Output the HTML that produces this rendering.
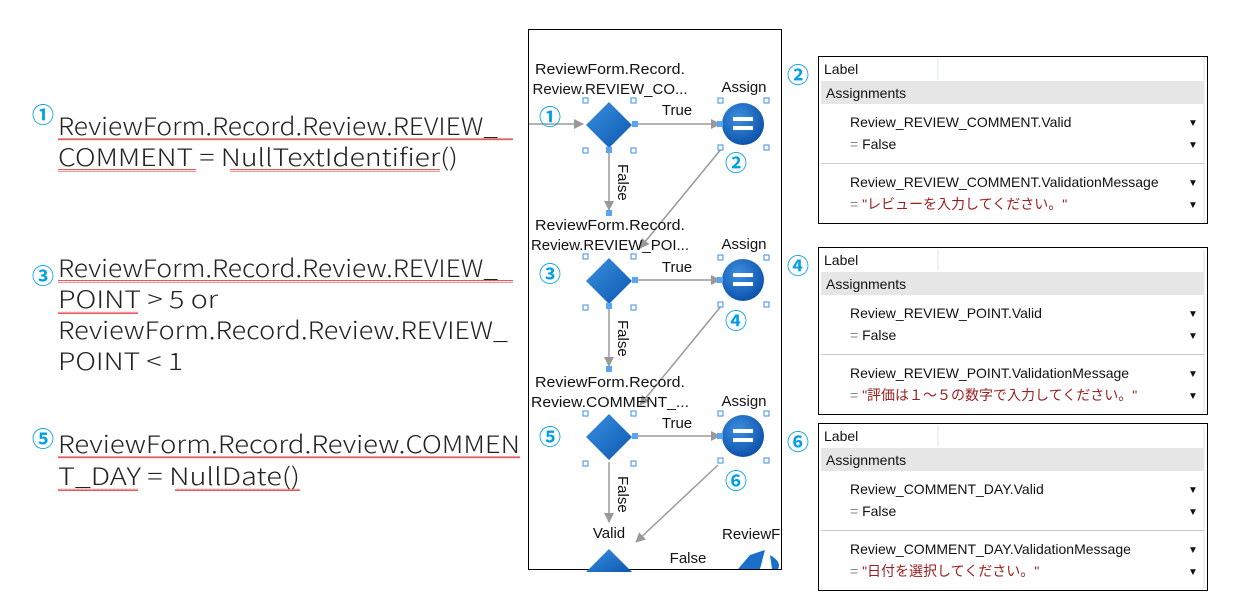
<!DOCTYPE html>
<html><head><meta charset="utf-8"><style>
html,body{margin:0;padding:0;background:#fff;}
svg{display:block;}
</style></head><body>
<svg width="1248" height="609" viewBox="0 0 1248 609" xmlns="http://www.w3.org/2000/svg" font-family="Liberation Sans, Noto Sans CJK JP, sans-serif">
<defs>
<radialGradient id="cg" cx="0.4" cy="0.35" r="0.7"><stop offset="0" stop-color="#3d8fe0"/><stop offset="1" stop-color="#0a4fa8"/></radialGradient>
<linearGradient id="dg" x1="0" y1="0" x2="1" y2="1"><stop offset="0" stop-color="#3a90e0"/><stop offset="1" stop-color="#0b58b0"/></linearGradient>
<marker id="ar" markerWidth="10" markerHeight="10" refX="9" refY="5" orient="auto" markerUnits="userSpaceOnUse"><path d="M0,0 L10,5 L0,10 z" fill="#999"/></marker>
<pattern id="wv" width="4" height="3" patternUnits="userSpaceOnUse"><path d="M0,2 L1,0.5 L2,2 L3,0.5 L4,2" stroke="#e03030" stroke-width="0.8" fill="none"/></pattern>
</defs>

<!-- left text -->
<g font-size="24" fill="#222" font-family="Noto Sans CJK JP, Liberation Sans, sans-serif" font-weight="300">
<text x="32" y="123" font-size="22" fill="#00a0e9" font-weight="700">①</text>
<text x="58" y="135" textLength="440" lengthAdjust="spacingAndGlyphs">ReviewForm.Record.Review.REVIEW_</text>
<text x="58" y="166" textLength="400" lengthAdjust="spacingAndGlyphs">COMMENT = NullTextIdentifier()</text>
<rect x="58" y="138" width="455" height="3" fill="url(#wv)"/>
<rect x="58" y="169" width="138" height="3" fill="url(#wv)"/>
<rect x="230" y="169" width="210" height="3" fill="url(#wv)"/>

<text x="32" y="284" font-size="22" fill="#00a0e9" font-weight="700">③</text>
<text x="58" y="277" textLength="440" lengthAdjust="spacingAndGlyphs">ReviewForm.Record.Review.REVIEW_</text>
<text x="58" y="308" textLength="160" lengthAdjust="spacingAndGlyphs">POINT &gt; 5 or</text>
<text x="58" y="339" textLength="450" lengthAdjust="spacingAndGlyphs">ReviewForm.Record.Review.REVIEW_</text>
<text x="58" y="370" textLength="125" lengthAdjust="spacingAndGlyphs">POINT &lt; 1</text>
<rect x="58" y="280" width="455" height="3" fill="url(#wv)"/>
<rect x="58" y="311" width="80" height="3" fill="url(#wv)"/>

<text x="32" y="447" font-size="22" fill="#00a0e9" font-weight="700">⑤</text>
<text x="58" y="453" textLength="462" lengthAdjust="spacingAndGlyphs">ReviewForm.Record.Review.COMMEN</text>
<text x="58" y="485" textLength="242" lengthAdjust="spacingAndGlyphs">T_DAY = NullDate()</text>
<rect x="58" y="456" width="462" height="3" fill="url(#wv)"/>
<rect x="58" y="488" width="80" height="3" fill="url(#wv)"/>
<rect x="175" y="488" width="125" height="3" fill="url(#wv)"/>
</g>

<!-- flow box -->
<rect x="528.5" y="29.5" width="253" height="540" fill="#fff" stroke="#000"/>
<g stroke="#9a9a9a" stroke-width="1.5" fill="none">
<line x1="529" y1="124" x2="583" y2="124" marker-end="url(#ar)"/>
<line x1="635" y1="124" x2="720" y2="124" marker-end="url(#ar)"/>
<line x1="609" y1="150" x2="609" y2="210" marker-end="url(#ar)"/>
<line x1="722" y1="148" x2="640" y2="248" marker-end="url(#ar)"/>
<line x1="635" y1="280" x2="720" y2="280" marker-end="url(#ar)"/>
<line x1="609" y1="306" x2="609" y2="366" marker-end="url(#ar)"/>
<line x1="722" y1="305" x2="640" y2="405" marker-end="url(#ar)"/>
<line x1="635" y1="436" x2="720" y2="436" marker-end="url(#ar)"/>
<line x1="609" y1="462" x2="609" y2="522" marker-end="url(#ar)"/>
<line x1="718" y1="465" x2="636" y2="542" marker-end="url(#ar)"/>
</g>
<g font-size="15" fill="#111">
<text x="610" y="74" text-anchor="middle" textLength="150" lengthAdjust="spacingAndGlyphs">ReviewForm.Record.</text>
<text x="610" y="94" text-anchor="middle" textLength="155" lengthAdjust="spacingAndGlyphs">Review.REVIEW_CO...</text>
<text x="610" y="230" text-anchor="middle" textLength="150" lengthAdjust="spacingAndGlyphs">ReviewForm.Record.</text>
<text x="610" y="250" text-anchor="middle" textLength="158" lengthAdjust="spacingAndGlyphs">Review.REVIEW_POI...</text>
<text x="610" y="387" text-anchor="middle" textLength="150" lengthAdjust="spacingAndGlyphs">ReviewForm.Record.</text>
<text x="610" y="407" text-anchor="middle" textLength="158" lengthAdjust="spacingAndGlyphs">Review.COMMENT_...</text>
<text x="744" y="92" text-anchor="middle">Assign</text>
<text x="744" y="249" text-anchor="middle">Assign</text>
<text x="744" y="406" text-anchor="middle">Assign</text>
<text x="677" y="115" text-anchor="middle">True</text>
<text x="677" y="272" text-anchor="middle">True</text>
<text x="677" y="428" text-anchor="middle">True</text>
<text x="609" y="538" text-anchor="middle">Valid</text>
<text x="688" y="563" text-anchor="middle">False</text>
<text x="722" y="539">ReviewF</text>
<text transform="translate(618,164) rotate(90)">False</text>
<text transform="translate(618,320) rotate(90)">False</text>
<text transform="translate(618,476) rotate(90)">False</text>
</g>
<g font-size="22" fill="#00a0e9" font-weight="700">
<text x="539" y="125">①</text>
<text x="725" y="171">②</text>
<text x="539" y="282">③</text>
<text x="725" y="329">④</text>
<text x="539" y="445">⑤</text>
<text x="725" y="489">⑥</text>
</g>
<!-- diamonds -->
<g fill="url(#dg)">
<path d="M609,102 L632,125 L609,148 L586,125 z"/>
<path d="M609,258 L632,281 L609,304 L586,281 z"/>
<path d="M609,414 L632,437 L609,460 L586,437 z"/>
<path d="M609,549 L632,572 L586,572 z"/>
</g>
<!-- circles -->
<g>
<circle cx="743" cy="124" r="21" fill="url(#cg)"/>
<circle cx="743" cy="280" r="21" fill="url(#cg)"/>
<circle cx="743" cy="436" r="21" fill="url(#cg)"/>
<g fill="#fff"><rect x="733" y="117" width="20" height="4"/><rect x="733" y="126" width="20" height="4"/>
<rect x="733" y="273" width="20" height="4"/><rect x="733" y="282" width="20" height="4"/>
<rect x="733" y="429" width="20" height="4"/><rect x="733" y="438" width="20" height="4"/></g>
</g>
<path d="M750,555 L765,550 L760,569 L738,569 z" fill="#1a6fc9"/>
<path d="M770,555 Q782,562 778,569 L772,569 z" fill="#1a6fc9"/>
<!-- selection handles -->
<g fill="#fff" stroke="#3d8ee8" stroke-width="1">
<rect x="583" y="98" width="5" height="5"/><rect x="631" y="98" width="5" height="5"/><rect x="583" y="148" width="5" height="5"/><rect x="631" y="148" width="5" height="5"/>
<rect x="583" y="254" width="5" height="5"/><rect x="631" y="254" width="5" height="5"/><rect x="583" y="305" width="5" height="5"/><rect x="631" y="305" width="5" height="5"/>
<rect x="583" y="411" width="5" height="5"/><rect x="631" y="411" width="5" height="5"/><rect x="583" y="461" width="5" height="5"/><rect x="631" y="461" width="5" height="5"/>
<rect x="718" y="98" width="5" height="5"/><rect x="764" y="98" width="5" height="5"/><rect x="718" y="145" width="5" height="5"/><rect x="764" y="145" width="5" height="5"/>
<rect x="718" y="255" width="5" height="5"/><rect x="764" y="255" width="5" height="5"/><rect x="718" y="302" width="5" height="5"/><rect x="764" y="302" width="5" height="5"/>
<rect x="718" y="411" width="5" height="5"/><rect x="764" y="411" width="5" height="5"/><rect x="718" y="458" width="5" height="5"/><rect x="764" y="458" width="5" height="5"/>
</g>
<g fill="#5aa5f0">
<rect x="632" y="121" width="6" height="6"/><rect x="606" y="147" width="6" height="6"/><rect x="606" y="210" width="6" height="6"/><rect x="717" y="121" width="6" height="6"/>
<rect x="632" y="277" width="6" height="6"/><rect x="606" y="303" width="6" height="6"/><rect x="606" y="366" width="6" height="6"/><rect x="717" y="277" width="6" height="6"/>
<rect x="632" y="433" width="6" height="6"/><rect x="717" y="433" width="6" height="6"/>
</g>

<!-- panels -->
<g font-size="14">
<g transform="translate(0,0)">
<text x="787" y="83" font-size="22" fill="#00a0e9" font-weight="700">②</text>
<rect x="818.5" y="56.5" width="389" height="167" fill="#fff" stroke="#000"/>
<line x1="938" y1="58" x2="938" y2="80" stroke="#d8e6f2"/>
<line x1="1204" y1="58" x2="1204" y2="222" stroke="#e0e0e0"/>
<rect x="821" y="81" width="383" height="23" fill="#e6e6e6"/>
<text x="824" y="74" fill="#111">Label</text>
<text x="826" y="98" fill="#111">Assignments</text>
<text x="850" y="127" fill="#111">Review_REVIEW_COMMENT.Valid</text>
<text x="850" y="149" fill="#111"><tspan fill="#888">=</tspan>  False</text>
<line x1="821" y1="163.5" x2="1204" y2="163.5" stroke="#ccc"/>
<text x="850" y="187" fill="#111">Review_REVIEW_COMMENT.ValidationMessage</text>
<text x="850" y="209" fill="#9b1c1c"><tspan fill="#888">=</tspan> "レビューを入力してください。"</text>
<g font-size="10" fill="#111"><text x="1188" y="126">▼</text><text x="1188" y="148">▼</text><text x="1188" y="186">▼</text><text x="1188" y="208">▼</text></g>
</g>
<g transform="translate(0,191)">
<text x="787" y="83" font-size="22" fill="#00a0e9" font-weight="700">④</text>
<rect x="818.5" y="56.5" width="389" height="167" fill="#fff" stroke="#000"/>
<line x1="938" y1="58" x2="938" y2="80" stroke="#d8e6f2"/>
<line x1="1204" y1="58" x2="1204" y2="222" stroke="#e0e0e0"/>
<rect x="821" y="81" width="383" height="23" fill="#e6e6e6"/>
<text x="824" y="74" fill="#111">Label</text>
<text x="826" y="98" fill="#111">Assignments</text>
<text x="850" y="127" fill="#111">Review_REVIEW_POINT.Valid</text>
<text x="850" y="149" fill="#111"><tspan fill="#888">=</tspan>  False</text>
<line x1="821" y1="163.5" x2="1204" y2="163.5" stroke="#ccc"/>
<text x="850" y="187" fill="#111">Review_REVIEW_POINT.ValidationMessage</text>
<text x="850" y="209" fill="#9b1c1c"><tspan fill="#888">=</tspan> "評価は１～５の数字で入力してください。"</text>
<g font-size="10" fill="#111"><text x="1188" y="126">▼</text><text x="1188" y="148">▼</text><text x="1188" y="186">▼</text><text x="1188" y="208">▼</text></g>
</g>
<g transform="translate(0,367)">
<text x="787" y="83" font-size="22" fill="#00a0e9" font-weight="700">⑥</text>
<rect x="818.5" y="56.5" width="389" height="167" fill="#fff" stroke="#000"/>
<line x1="938" y1="58" x2="938" y2="80" stroke="#d8e6f2"/>
<line x1="1204" y1="58" x2="1204" y2="222" stroke="#e0e0e0"/>
<rect x="821" y="81" width="383" height="23" fill="#e6e6e6"/>
<text x="824" y="74" fill="#111">Label</text>
<text x="826" y="98" fill="#111">Assignments</text>
<text x="850" y="127" fill="#111">Review_COMMENT_DAY.Valid</text>
<text x="850" y="149" fill="#111"><tspan fill="#888">=</tspan>  False</text>
<line x1="821" y1="163.5" x2="1204" y2="163.5" stroke="#ccc"/>
<text x="850" y="187" fill="#111">Review_COMMENT_DAY.ValidationMessage</text>
<text x="850" y="209" fill="#9b1c1c"><tspan fill="#888">=</tspan> "日付を選択してください。"</text>
<g font-size="10" fill="#111"><text x="1188" y="126">▼</text><text x="1188" y="148">▼</text><text x="1188" y="186">▼</text><text x="1188" y="208">▼</text></g>
</g>
</g>
</svg>
</body></html>
